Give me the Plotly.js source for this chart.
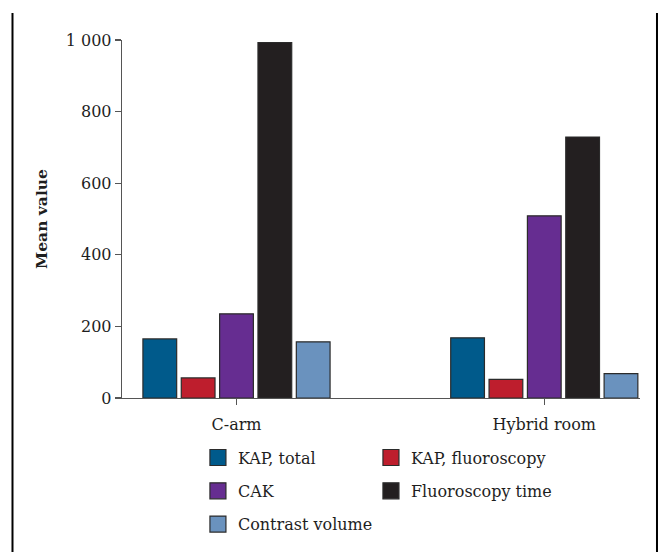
<!DOCTYPE html>
<html>
<head>
<meta charset="utf-8">
<script src="https://cdn.plot.ly/plotly-3.0.1.min.js"></script>
<style>
html,body{margin:0;padding:0;background:#fff;}
#chart{width:661px;height:552px;}
</style>
</head>
<body>
<div id="chart"></div>
<script>
// Data
const categories = ["C-arm", "Hybrid room"];
const seriesNames = ["KAP, total", "KAP, fluoroscopy", "CAK", "Fluoroscopy time", "Contrast volume"];
const kapTotal = [165, 168];
const kapFluoroscopy = [56, 52];
const cak = [235, 509];
const fluoroscopyTime = [993, 729];
const contrastVolume = [157, 68];
const yTickVals = [0, 200, 400, 600, 800, 1000];
const yTickText = ["0", "200", "400", "600", "800", "1 000"];

const seriesValues = [kapTotal, kapFluoroscopy, cak, fluoroscopyTime, contrastVolume];
const colors = ["#005a8b", "#be1e2d", "#662d91", "#231f20", "#6a92be"];
const legendOf = ["legend", "legend2", "legend", "legend2", "legend"];
const outline = "#2b2b2b";
const fontFam = "DejaVu Serif, serif";

const traces = [];
seriesValues.forEach((vals, i) => {
  traces.push({
    type: "bar",
    x: categories,
    y: vals,
    name: seriesNames[i],
    marker: {color: colors[i], line: {color: outline, width: 1.2}},
    showlegend: false,
    hoverinfo: "x+y+name"
  });
});
// legend entries (16px squares)
seriesValues.forEach((vals, i) => {
  traces.push({
    type: "scatter",
    mode: "markers",
    x: [null],
    y: [null],
    name: seriesNames[i],
    legend: legendOf[i],
    legendgroup: "g" + i,
    marker: {symbol: "square", size: 16, color: colors[i], line: {color: outline, width: 1.2}},
    showlegend: true,
    hoverinfo: "skip"
  });
});

const legendCommon = {
  orientation: "v",
  yanchor: "top",
  xanchor: "left",
  y: -0.119,
  tracegroupgap: 9.5,
  bgcolor: "rgba(0,0,0,0)",
  borderwidth: 0,
  font: {family: fontFam, size: 16, color: "#1e1e1e"}
};

const layout = {
  width: 661,
  height: 552,
  margin: {l: 122, r: 21, t: 40, b: 153.5, autoexpand: false},
  paper_bgcolor: "#ffffff",
  plot_bgcolor: "#ffffff",
  font: {family: fontFam, size: 16, color: "#1e1e1e"},
  barmode: "group",
  bargap: 0.377,
  bargroupgap: 0.12,
  showlegend: true,
  legend: Object.assign({}, legendCommon, {x: 0.1466}),
  legend2: Object.assign({}, legendCommon, {x: 0.4806}),
  xaxis: {
    type: "category",
    range: [-0.372, 1.311],
    showline: true,
    linecolor: "#555555",
    linewidth: 1.3,
    ticks: "outside",
    ticklen: 6,
    tickwidth: 1.3,
    tickcolor: "#555555",
    ticklabelstandoff: 5,
    showgrid: false,
    zeroline: false,
    tickfont: {family: fontFam, size: 16, color: "#1e1e1e"},
    fixedrange: true
  },
  yaxis: {
    range: [0, 1000],
    tickvals: yTickVals,
    ticktext: yTickText,
    showline: true,
    linecolor: "#555555",
    linewidth: 1.3,
    ticks: "outside",
    ticklen: 6,
    tickwidth: 1.3,
    tickcolor: "#555555",
    showgrid: false,
    zeroline: false,
    tickfont: {family: fontFam, size: 16, color: "#1e1e1e"},
    title: {text: "<b>Mean value</b>", font: {family: fontFam, size: 15.5, color: "#1e1e1e"}, standoff: 14},
    fixedrange: true
  },
  shapes: [
    {type: "line", xref: "paper", yref: "paper", x0: -0.2114, x1: -0.2114, y0: 1.0753, y1: -0.45, line: {color: "#000", width: 2}},
    {type: "line", xref: "paper", yref: "paper", x0: 1.0328, x1: 1.0328, y0: 1.0753, y1: -0.45, line: {color: "#000", width: 2}}
  ]
};

Plotly.newPlot("chart", traces, layout, {displayModeBar: false, staticPlot: true});
</script>
</body>
</html>
